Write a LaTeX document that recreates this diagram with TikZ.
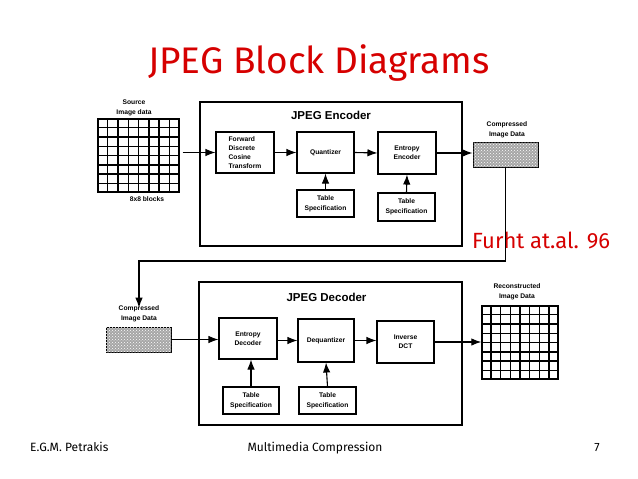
\documentclass[tikz,border=0pt]{standalone}
\usepackage{fontspec}
\setmainfont{Liberation Sans}
\newfontfamily\comicf{Fira Sans}
\usetikzlibrary{arrows.meta,patterns,calc}
\definecolor{titlered}{RGB}{214,0,0}
\begin{document}
\begin{tikzpicture}[x=1pt,y=-1pt,
  blk/.style={draw,line width=1.1pt,font=\bfseries\fontsize{6.7}{9}\selectfont,align=center,inner sep=0pt},
  big/.style={draw,line width=1.6pt,inner sep=0pt},
  lbl/.style={font=\bfseries\fontsize{6.7}{10}\selectfont,align=center,inner sep=0pt},
  hdr/.style={font=\bfseries\fontsize{11.5}{13}\selectfont,inner sep=0pt},
  arr/.style={line width=1.1pt,-{Latex[length=10pt,width=7.5pt]}},
  gridbox/.style={draw,line width=1.4pt,inner sep=0pt},
  comp/.style={draw,line width=1pt,inner sep=0pt,fill=black!35,postaction={pattern=crosshatch dots,pattern color=white}},
  foot/.style={font=\comicf\fontsize{12}{14}\selectfont,inner sep=0pt}]
\useasboundingbox (0,0) rectangle (638,479);
\fill[white] (0,0) rectangle (638,479);

% title
\node[font=\comicf\fontsize{37}{42}\selectfont,text=titlered,inner sep=0pt] (title) at (319,63) {JPEG Block Diagrams};

% encoder frame
\node[big,minimum width=262,minimum height=144] (enc) at (331,174) {};
\node[hdr] (enclbl) at (331,115) {JPEG Encoder};

% source grid
\node[gridbox,minimum width=81,minimum height=73] (src) at (138.5,155.5) {};
\foreach \i in {1,...,7}{
  \draw[line width=1.4pt] ($(src.north west)!\i/8!(src.north east)$) -- ($(src.south west)!\i/8!(src.south east)$);
  \draw[line width=1.4pt] ($(src.north west)!\i/8!(src.south west)$) -- ($(src.north east)!\i/8!(src.south east)$);
}
\node[lbl] (srclbl) at (134,108) {Source\\Image data};
\node[lbl] (blocks) at (147,199) {8x8 blocks};

% encoder blocks
\node[blk,minimum width=58,minimum height=41,align=left] (fdct) at (245,152.5) {Forward\\Discrete\\Cosine\\Transform};
\node[blk,minimum width=57,minimum height=41] (quant) at (325.5,152.5) {Quantizer};
\node[blk,minimum width=58,minimum height=42] (ent) at (407,153) {Entropy\\Encoder};
\node[blk,minimum width=57,minimum height=27,font=\bfseries\fontsize{6.7}{10}\selectfont] (ts1) at (325.5,203.5) {Table\\Specification};
\node[blk,minimum width=57,minimum height=28,font=\bfseries\fontsize{6.7}{10}\selectfont] (ts2) at (406.5,207) {Table\\Specification};

% compressed data (top)
\node[comp,minimum width=65,minimum height=25] (ctop) at (505.5,154.5) {};
\node[lbl] (ctoplbl) at (507,130) {Compressed\\Image Data};

% encoder arrows
\draw[arr] ([xshift=3pt]src.east |- fdct.west) -- (fdct.west);
\draw[arr] (fdct.east) -- (quant.west);
\draw[arr] (quant.east) -- (ent.west);
\draw[arr] (ent.east) -- (ent.east -| ctop.west);
\draw[arr] (ts1.north) -- (quant.south);
\draw[arr] (ts2.north) -- (ent.south);

% reference text
\node[font=\comicf\fontsize{22}{26}\selectfont,text=titlered,inner sep=0pt,anchor=base west] (furht) at (472,248) {Furht at.al. 96};

% decoder frame
\node[big,minimum width=263,minimum height=143] (dec) at (330.5,353.5) {};
\node[hdr] (declbl) at (326.5,297) {JPEG Decoder};

% compressed data (bottom)
\node[lbl] (cbotlbl) at (139,314) {Compressed\\Image Data};
\node[comp,minimum width=65,minimum height=25] (cbot) at (138.5,339.5) {};

% link from encoder output to decoder input
\coordinate (bend) at (cbotlbl.north |- 0,261);
\draw[arr] (ctop.south) |- (bend) -- ([yshift=-2pt]cbotlbl.north);

% decoder blocks
\node[blk,minimum width=58,minimum height=41] (ed) at (248,338.5) {Entropy\\Decoder};
\node[blk,minimum width=56,minimum height=43] (deq) at (326,340.5) {Dequantizer};
\node[blk,minimum width=57,minimum height=42] (idct) at (405.5,342) {Inverse\\DCT};
\node[blk,minimum width=56,minimum height=27,font=\bfseries\fontsize{6.7}{10}\selectfont] (tsd1) at (251,400.5) {Table\\Specification};
\node[blk,minimum width=57,minimum height=27,font=\bfseries\fontsize{6.7}{10}\selectfont] (tsd2) at (327.5,400.5) {Table\\Specification};

% reconstructed grid
\node[gridbox,minimum width=76,minimum height=73] (rec) at (520,342.5) {};
\foreach \i in {1,...,7}{
  \draw[line width=1.4pt] ($(rec.north west)!\i/8!(rec.north east)$) -- ($(rec.south west)!\i/8!(rec.south east)$);
  \draw[line width=1.4pt] ($(rec.north west)!\i/8!(rec.south west)$) -- ($(rec.north east)!\i/8!(rec.south east)$);
}
\node[lbl] (reclbl) at (517,292) {Reconstructed\\Image Data};

% decoder arrows
\draw[arr] (cbot.east) -- (cbot.east -| ed.west);
\draw[arr] (ed.east |- deq.west) -- (deq.west);
\draw[arr] (deq.east) -- (deq.east -| idct.west);
\draw[arr] (idct.east) -- (idct.east -| rec.west);
\draw[arr] (tsd1.north) -- (tsd1.north |- ed.south);
\draw[arr] (tsd2.north) -- (deq.south);

% footer
\node[foot,anchor=base west] (author) at (30,451) {E.G.M. Petrakis};
\node[foot,anchor=base] (course) at (315,451) {Multimedia Compression};
\node[foot,anchor=base] (page) at (597,451) {7};
\end{tikzpicture}
\end{document}
